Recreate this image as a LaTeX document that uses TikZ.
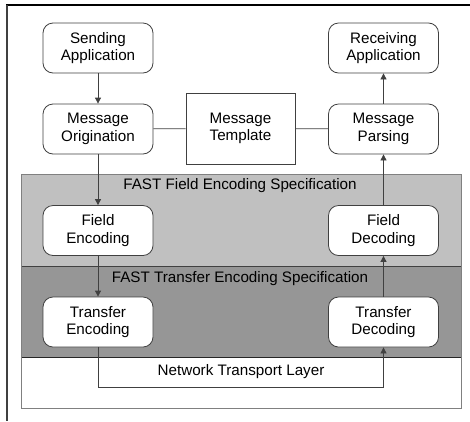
\documentclass[tikz,border=0pt]{standalone}
\usepackage{fontspec}
\setmainfont{Liberation Sans}
\usetikzlibrary{arrows.meta}
\definecolor{lightband}{HTML}{C0C0C0}
\definecolor{darkband}{HTML}{969696}
\definecolor{edgegray}{HTML}{404040}
\begin{document}
\begin{tikzpicture}[x=1pt,y=-1pt,
  rbox/.style={draw=edgegray, line width=0.8pt, fill=white, rounded corners=10pt,
    minimum width=110pt, minimum height=50pt, align=center, inner sep=0pt,
    font=\fontsize{15.2}{17.5}\selectfont},
  sbox/.style={draw=edgegray, line width=0.8pt, fill=white,
    minimum width=109pt, minimum height=71pt, align=center, inner sep=0pt,
    font=\fontsize{15.2}{17.5}\selectfont},
  lbl/.style={font=\fontsize{15.2}{17.5}\selectfont, inner sep=0pt},
  conn/.style={draw=edgegray, line width=0.8pt},
  arr/.style={conn, -{Triangle[length=6pt,width=6pt]}}
]
\useasboundingbox (0,0) rectangle (470,421);
% outer frame (top and left only)
\draw[line width=1.6pt, black] (6,5) -- (470,5);
\draw[line width=1.2pt, edgegray] (7,5) -- (7,421);
% panel bands
\fill[lightband] (21,174) rectangle (461.5,266);
\fill[darkband] (21,266) rectangle (461.5,357.5);
\draw[line width=0.8pt, edgegray] (21,266) -- (461.5,266);
\draw[line width=0.8pt, black!85] (21,357.5) -- (461.5,357.5);
\draw[line width=0.8pt, gray] (21,174) rectangle (461.5,408);
% band labels
\node[lbl] (fieldspec) at (240,186) {FAST Field Encoding Specification};
\node[lbl] (transspec) at (240,279) {FAST Transfer Encoding Specification};
\node[lbl] (network) at (241,372) {Network Transport Layer};
% nodes
\node[rbox] (send) at (98,48) {Sending\\Application};
\node[rbox] (orig) at (98,129) {Message\\Origination};
\node[sbox] (tmpl) at (240.5,128.5) {Message\\Template};
\node[rbox] (recv) at (383.5,48) {Receiving\\Application};
\node[rbox] (pars) at (383.5,129) {Message\\Parsing};
\node[rbox] (fenc) at (98,230.5) {Field\\Encoding};
\node[rbox] (fdec) at (383.5,230.5) {Field\\Decoding};
\node[rbox] (tenc) at (98,322) {Transfer\\Encoding};
\node[rbox] (tdec) at (383.5,322) {Transfer\\Decoding};
% connectors
\draw[arr] (send) -- (orig);
\draw[arr] (orig) -- (fenc);
\draw[arr] (fenc) -- (tenc);
\draw[arr] (tdec) -- (fdec);
\draw[arr] (fdec) -- (pars);
\draw[arr] (pars) -- (recv);
\draw[conn] (orig) -- (tmpl);
\draw[conn] (tmpl) -- (pars);
\coordinate (netL) at (98,387);
\coordinate (netR) at (383.5,387);
\draw[arr] (tenc.south) -- (netL) -- (netR) -- (tdec.south);
\end{tikzpicture}
\end{document}
